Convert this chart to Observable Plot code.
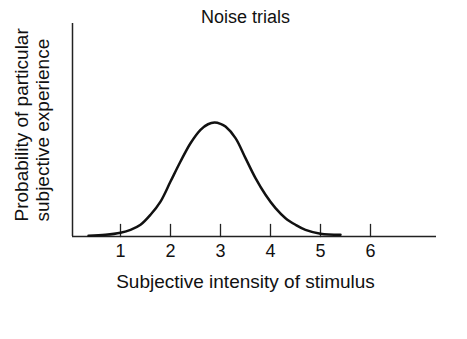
<!DOCTYPE html>
<html>
<head>
<meta charset="utf-8">
<script src="https://cdn.jsdelivr.net/npm/d3@7"></script>
<script src="https://cdn.jsdelivr.net/npm/@observablehq/plot@0.6"></script>
<style>
  html, body { margin: 0; padding: 0; background: #fff; }
  #chart svg { display: block; }
</style>
</head>
<body>
<div id="chart"></div>
<script>
// Data
const title = "Noise trials";
const xLabel = "Subjective intensity of stimulus";
const yLabel = "Probability of particular\nsubjective experience";
const xTicks = [1, 2, 3, 4, 5, 6];
const xDomain = [0.04, 7.32];
const yDomain = [0, 1];
const curveX = [0.36, 0.7, 1.0, 1.2, 1.4, 1.6, 1.8, 2.0, 2.2, 2.4, 2.6, 2.75, 2.88, 3.0, 3.1, 3.3, 3.5, 3.7, 3.9, 4.1, 4.3, 4.5, 4.7, 5.0, 5.4];
const curveY = [0.003, 0.008, 0.018, 0.031, 0.055, 0.102, 0.164, 0.258, 0.352, 0.438, 0.501, 0.527, 0.535, 0.529, 0.516, 0.462, 0.368, 0.274, 0.196, 0.133, 0.086, 0.055, 0.031, 0.013, 0.008];

const curve = curveX.map((x, i) => ({x, y: curveY[i]}));
const tickShape = {draw(context, l) { context.moveTo(0, 0); context.lineTo(0, -l); }};

const chart = Plot.plot({
  width: 467,
  height: 339,
  marginLeft: 72,
  marginRight: 31,
  marginTop: 23,
  marginBottom: 103,
  style: {fontFamily: "'Liberation Sans', Arial, sans-serif", color: "#111", background: "#fff"},
  x: {domain: xDomain, axis: null},
  y: {domain: yDomain, axis: null},
  marks: [
    Plot.ruleX([xDomain[0]], {stroke: "#222", strokeWidth: 1.5}),
    Plot.ruleY([0], {stroke: "#222", strokeWidth: 1.5}),
    Plot.vector(xTicks, {x: d => d, y: 0, length: 12, rotate: 0, anchor: "start", shape: tickShape, stroke: "#222", strokeWidth: 1.3}),
    Plot.text(xTicks, {x: d => d, frameAnchor: "bottom", dy: 20, text: d => String(d), fontSize: 18, fill: "#111"}),
    Plot.line(curve, {x: "x", y: "y", curve: "catmull-rom", stroke: "#111", strokeWidth: 2.5}),
    Plot.text([title], {frameAnchor: "top", dx: -9, dy: -13, fontSize: 18, fill: "#111"}),
    Plot.text([xLabel], {frameAnchor: "bottom", dx: -9, dy: 51, fontSize: 19, fill: "#111"}),
    Plot.text([yLabel], {frameAnchor: "bottom-left", rotate: -90, textAnchor: "start", dx: -24, dy: -15, fontSize: 19, lineHeight: 1.1, fill: "#111"})
  ]
});
document.getElementById("chart").append(chart);
</script>
</body>
</html>
